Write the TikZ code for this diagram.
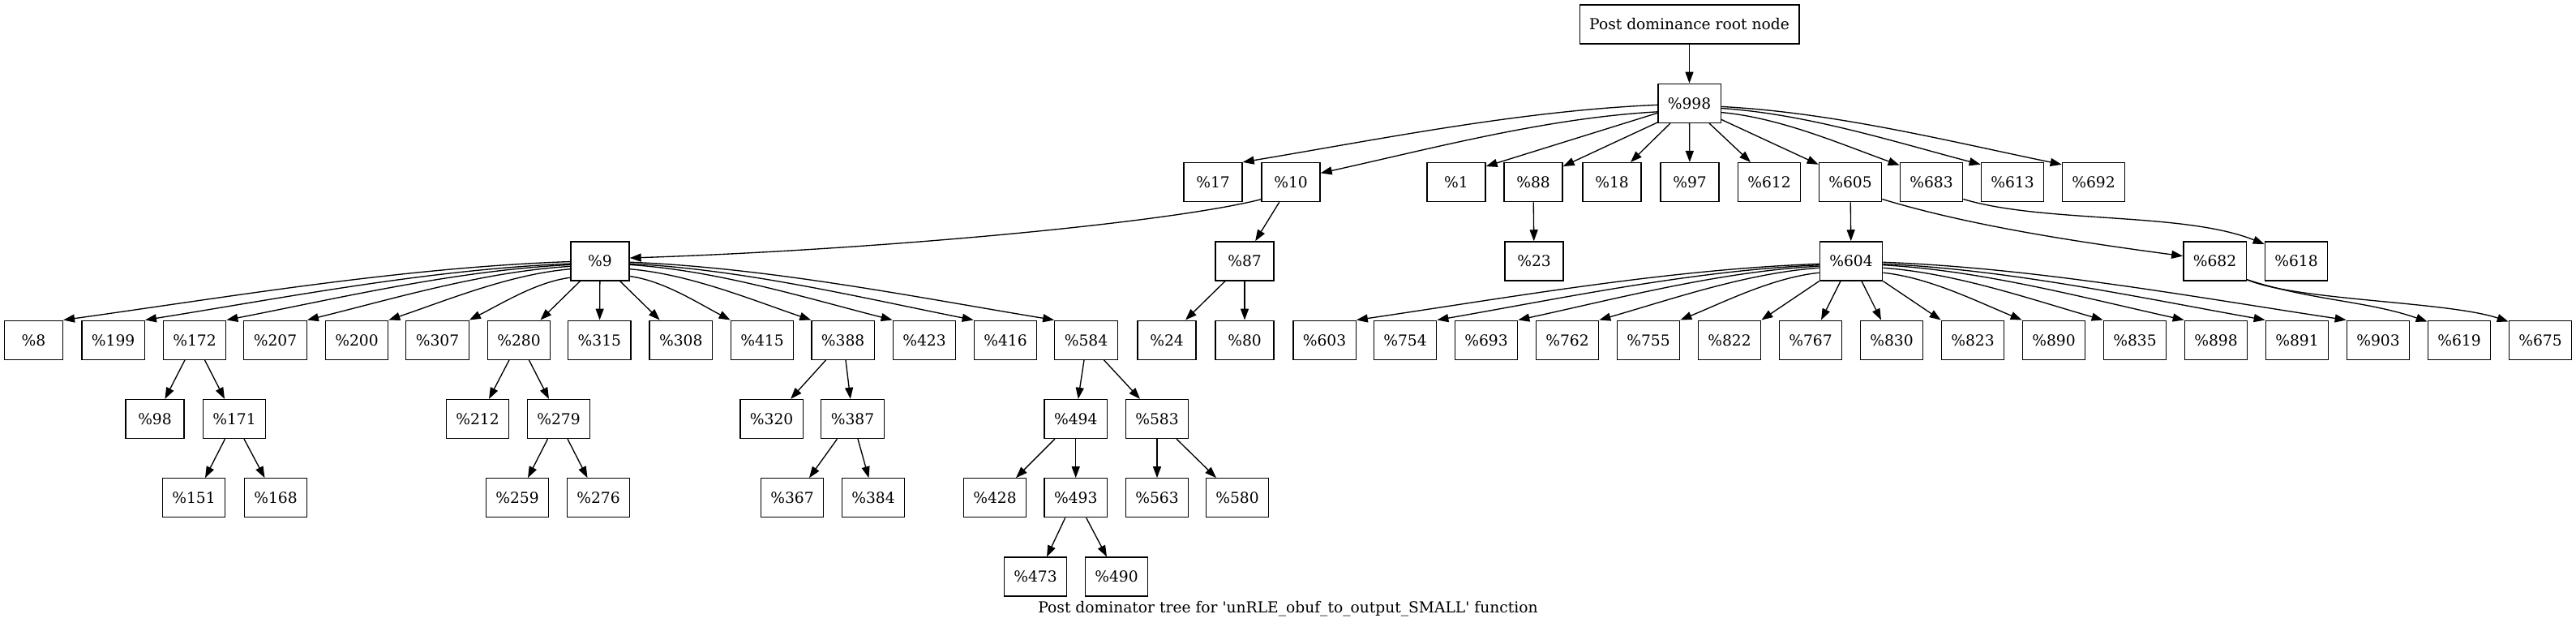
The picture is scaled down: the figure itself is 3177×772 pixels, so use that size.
\documentclass[tikz,border=0pt]{standalone}
\usepackage{fontspec}
\setmainfont{DejaVu Serif}
\usetikzlibrary{arrows.meta,calc}
\newcommand{\fanedge}[2]{%
  \draw[arr] let \p1=(#1), \p2=(#2) in
    (\p1) .. controls ($(\p1)+(0.33*\x2-0.33*\x1, 0.1*\y2-0.1*\y1)$)
    and ($(\p2)-(0.33*\x2-0.33*\x1, 0.4*\y2-0.4*\y1)$) .. (\p2);}
\begin{document}
\begin{tikzpicture}[x=0.75pt,y=-0.75pt,
  box/.style={draw, line width=1pt, minimum width=54pt, minimum height=36pt,
    inner xsep=9pt, inner ysep=0pt, font=\fontsize{14pt}{17pt}\selectfont},
  arr/.style={draw, line width=1pt, -{Triangle[length=10.5pt,width=7.5pt]}},
  captext/.style={font=\fontsize{14pt}{17pt}\selectfont, inner sep=0pt, anchor=base}]
\fill[white] (0,0) rectangle (3177,772);
\useasboundingbox (0,0) rectangle (3177,772);
% row 0 and 1
\node[box] (root) at (2083.5,30) {Post dominance root node};
\node[box] (n998) at (2083.5,127.3) {\%998};
% row 2
\node[box] (n17) at (1496,224.6) {\%17};
\node[box] (n10) at (1592,224.6) {\%10};
\node[box] (n1) at (1796,224.6) {\%1};
\node[box] (n88) at (1891,224.6) {\%88};
\node[box] (n18) at (1988,224.6) {\%18};
\node[box] (n97) at (2084,224.6) {\%97};
\node[box] (n612) at (2182,224.6) {\%612};
\node[box] (n605) at (2282,224.6) {\%605};
\node[box] (n683) at (2382,224.6) {\%683};
\node[box] (n613) at (2482,224.6) {\%613};
\node[box] (n692) at (2582,224.6) {\%692};
% row 3
\node[box] (n9) at (740,321.9) {\%9};
\node[box] (n87) at (1535,321.9) {\%87};
\node[box] (n23) at (1892,321.9) {\%23};
\node[box] (n604) at (2283,321.9) {\%604};
\node[box] (n682) at (2731.5,321.9) {\%682};
\node[box] (n618) at (2832,321.9) {\%618};
% row 4
\node[box] (n8) at (41.4,419.2) {\%8};
\node[box] (n199) at (139.6,419.2) {\%199};
\node[box] (n172) at (240,419.2) {\%172};
\node[box] (n207) at (339.5,419.2) {\%207};
\node[box] (n200) at (440,419.2) {\%200};
\node[box] (n307) at (539.5,419.2) {\%307};
\node[box] (n280) at (640,419.2) {\%280};
\node[box] (n315) at (739.4,419.2) {\%315};
\node[box] (n308) at (839.7,419.2) {\%308};
\node[box] (n415) at (940,419.2) {\%415};
\node[box] (n388) at (1039.6,419.2) {\%388};
\node[box] (n423) at (1140,419.2) {\%423};
\node[box] (n416) at (1240,419.2) {\%416};
\node[box] (n584) at (1339.5,419.2) {\%584};
\node[box] (n24) at (1439,419.2) {\%24};
\node[box] (n80) at (1535,419.2) {\%80};
\node[box] (n603) at (1633.5,419.2) {\%603};
\node[box] (n754) at (1733,419.2) {\%754};
\node[box] (n693) at (1833,419.2) {\%693};
\node[box] (n762) at (1933,419.2) {\%762};
\node[box] (n755) at (2033,419.2) {\%755};
\node[box] (n822) at (2133,419.2) {\%822};
\node[box] (n767) at (2233,419.2) {\%767};
\node[box] (n830) at (2333,419.2) {\%830};
\node[box] (n823) at (2433,419.2) {\%823};
\node[box] (n890) at (2533,419.2) {\%890};
\node[box] (n835) at (2633,419.2) {\%835};
\node[box] (n898) at (2733,419.2) {\%898};
\node[box] (n891) at (2833,419.2) {\%891};
\node[box] (n903) at (2933,419.2) {\%903};
\node[box] (n619) at (3033,419.2) {\%619};
\node[box] (n675) at (3133,419.2) {\%675};
% row 5
\node[box] (n98) at (191,516.5) {\%98};
\node[box] (n171) at (289,516.5) {\%171};
\node[box] (n212) at (589,516.5) {\%212};
\node[box] (n279) at (689,516.5) {\%279};
\node[box] (n320) at (951.6,516.5) {\%320};
\node[box] (n387) at (1051.5,516.5) {\%387};
\node[box] (n494) at (1326.7,516.5) {\%494};
\node[box] (n583) at (1427,516.5) {\%583};
% row 6
\node[box] (n151) at (239,613.8) {\%151};
\node[box] (n168) at (340,613.8) {\%168};
\node[box] (n259) at (638,613.8) {\%259};
\node[box] (n276) at (738,613.8) {\%276};
\node[box] (n367) at (977,613.8) {\%367};
\node[box] (n384) at (1077,613.8) {\%384};
\node[box] (n428) at (1227,613.8) {\%428};
\node[box] (n493) at (1326.7,613.8) {\%493};
\node[box] (n563) at (1427,613.8) {\%563};
\node[box] (n580) at (1526,613.8) {\%580};
% row 7
\node[box] (n473) at (1277,711.1) {\%473};
\node[box] (n490) at (1377,711.1) {\%490};
% caption
\node[captext] (caption) at (1588.5,755) {Post dominator tree for \textquotesingle unRLE\_obuf\_to\_output\_SMALL\textquotesingle\ function};

% edges from root and %998
\draw[arr] (root) -- (n998);
\fanedge{n998.183}{n17.north east}
\fanedge{n998.195}{n10.17}
\draw[arr] (n998.197) -- (n1.28);
\draw[arr] (n998.211) -- (n88.28);
\draw[arr] ($(n998.south)+(-23.5,0)$) -- ($(n18.north)+(23,0)$);
\draw[arr] (n998) -- (n97);
\draw[arr] ($(n998.south)+(24.5,0)$) -- ($(n612.north)+(-23,0)$);
\draw[arr] (n998.333) -- (n605.151);
\fanedge{n998.344}{n683.152}
\fanedge{n998.351}{n613.151}
\fanedge{n998.354}{n692.151}
% %10, %88, %605, %683
\draw[arr] (n10.210) .. controls ($(n10.210)+(-120,30)$) and ($(n9.6)+(300,-10)$) .. (n9.6);
\draw[arr] (n10.240) -- (n87.62);
\draw[arr] (n88) -- (n23);
\draw[arr] (n605) -- (n604);
\draw[arr] (n605.332) .. controls ($(n605.332)+(99,30)$) and ($(n682.171)+(-150,-20)$) .. (n682.171);
\draw[arr] (n683.332) .. controls ($(n683.332)+(100,30)$) and ($(n618.152)+(-100,-40)$) .. (n618.152);
\draw[arr] (n682.330) .. controls ($(n682.330)+(80,26)$) and ($(n619.150)+(-76,-26)$) .. (n619.150);
\draw[arr] (n682.330) .. controls ($(n682.330)+(60,26)$) and ($(n675.150)+(-75,-25)$) .. (n675.150);
% %9 fan
\fanedge{n9.181}{n8.north east}
\fanedge{n9.185}{n199.north east}
\fanedge{n9.187}{n172.north east}
\fanedge{n9.190}{n207.north east}
\fanedge{n9.195}{n200.north east}
\fanedge{n9.209}{n307.north east}
\draw[arr] ($(n9.south)+(-24.5,0)$) -- ($(n280.north)+(26.4,0)$);
\draw[arr] (n9) -- (n315);
\draw[arr] ($(n9.south)+(24.6,0)$) -- ($(n308.north)+(-26,0)$);
\fanedge{n9.333}{n415.north west}
\fanedge{n9.345}{n388.north west}
\fanedge{n9.353}{n423.north west}
\fanedge{n9.355}{n416.north west}
\fanedge{n9.358}{n584.north west}
% %604 fan
\fanedge{n604.185}{n603.north east}
\fanedge{n604.187}{n754.north east}
\fanedge{n604.189}{n693.north east}
\fanedge{n604.192}{n762.north east}
\fanedge{n604.200}{n755.north east}
\draw[arr] (n604.south west) -- (n822.north east);
\draw[arr] ($(n604.south)+(-13,0)$) -- ($(n767.north)+(13,0)$);
\draw[arr] ($(n604.south)+(13,0)$) -- ($(n830.north)+(-13,0)$);
\draw[arr] (n604.south east) -- (n823.north west);
\fanedge{n604.340}{n890.north west}
\fanedge{n604.348}{n835.north west}
\fanedge{n604.353}{n898.north west}
\fanedge{n604.355}{n891.north west}
\fanedge{n604.358}{n903.north west}
% lower subtrees
\draw[arr] ($(n172.south)+(-12,0)$) -- ($(n98.north)+(12.4,0)$);
\draw[arr] ($(n172.south)+(12.5,0)$) -- ($(n171.north)+(-12,0)$);
\draw[arr] ($(n171.south)+(-11.5,0)$) -- ($(n151.north)+(14,0)$);
\draw[arr] ($(n171.south)+(12,0)$) -- ($(n168.north)+(-13.5,0)$);
\draw[arr] ($(n280.south)+(-12,0)$) -- ($(n212.north)+(14,0)$);
\draw[arr] ($(n280.south)+(12.4,0)$) -- ($(n279.north)+(-12,0)$);
\draw[arr] ($(n279.south)+(-13.5,0)$) -- ($(n259.north)+(13,0)$);
\draw[arr] ($(n279.south)+(11,0)$) -- ($(n276.north)+(-13.5,0)$);
\draw[arr] ($(n388.south)+(-21,0)$) -- ($(n320.north)+(23.5,0)$);
\draw[arr] ($(n388.south)+(3.4,0)$) -- ($(n387.north)+(-2.7,0)$);
\draw[arr] ($(n387.south)+(-19,0)$) -- ($(n367.north)+(21,0)$);
\draw[arr] ($(n387.south)+(6.5,0)$) -- ($(n384.north)+(-5.6,0)$);
\draw[arr] ($(n584.south)+(-2.5,0)$) -- ($(n494.north)+(3,0)$);
\draw[arr] ($(n584.south)+(22,0)$) -- ($(n583.north)+(-21,0)$);
\draw[arr] ($(n494.south)+(-25.7,0)$) -- ($(n428.north)+(26,0)$);
\draw[arr] (n494) -- (n493);
\draw[arr] (n583) -- (n563);
\draw[arr] ($(n583.south)+(24,0)$) -- ($(n580.north)+(-26,0)$);
\draw[arr] ($(n493.south)+(-13,0)$) -- ($(n473.north)+(14,0)$);
\draw[arr] ($(n493.south)+(13,0)$) -- ($(n490.north)+(-12,0)$);
\draw[arr] ($(n87.south)+(-24,0)$) -- ($(n24.north)+(23,0)$);
\draw[arr] (n87) -- (n80);
\end{tikzpicture}
\end{document}
